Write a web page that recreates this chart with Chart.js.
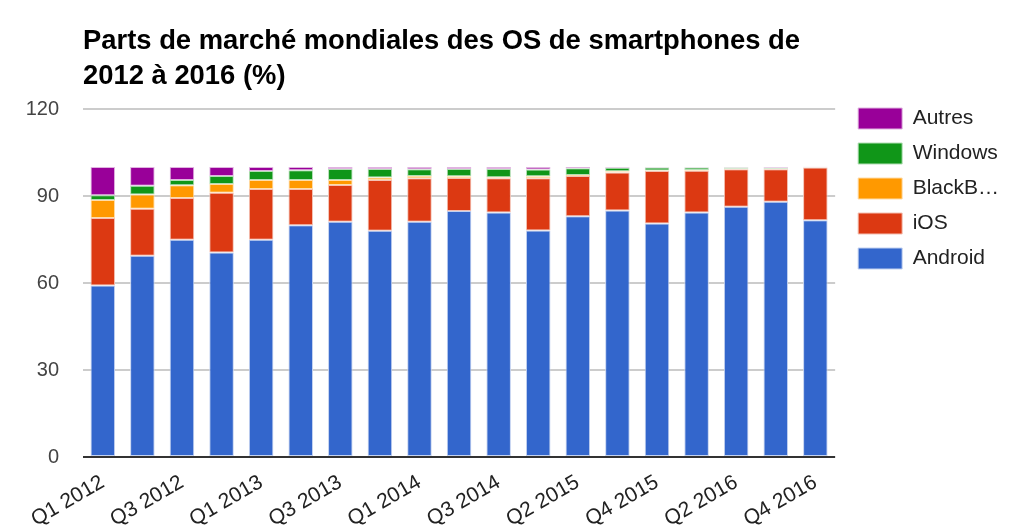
<!DOCTYPE html>
<html lang="fr">
<head>
<meta charset="utf-8">
<title>Parts de marché mondiales des OS de smartphones</title>
<script src="https://cdn.jsdelivr.net/npm/chart.js@4"></script>
<style>
  html, body { margin: 0; padding: 0; background: #fff; }
  #wrap { position: relative; width: 1024px; height: 531px; }
</style>
</head>
<body>
<div id="wrap"><canvas id="os-chart"></canvas></div>
<script>
// quarters (one quarter, Q4 2014, is missing from the source)
const quarters = [
  "Q1 2012", "Q2 2012", "Q3 2012", "Q4 2012",
  "Q1 2013", "Q2 2013", "Q3 2013", "Q4 2013",
  "Q1 2014", "Q2 2014", "Q3 2014", "Q1 2015",
  "Q2 2015", "Q3 2015", "Q4 2015",
  "Q1 2016", "Q2 2016", "Q3 2016", "Q4 2016"
];

// market share in %
const android = [59.1, 69.4, 74.9, 70.5, 74.9, 79.9, 81.1, 78.0, 81.1, 84.8, 84.3, 78.1, 83.0, 85.0, 80.5, 84.3, 86.3, 88.0, 81.6];
const ios = [23.3, 16.2, 14.4, 20.6, 17.5, 12.5, 12.7, 17.5, 15.0, 11.4, 11.8, 18.0, 13.9, 13.1, 18.1, 14.4, 12.9, 11.2, 18.2];
const blackberry = [6.2, 4.9, 4.4, 3.0, 3.1, 3.1, 1.7, 0.9, 0.8, 0.6, 0.4, 0.7, 0.3, 0.4, 0.2, 0.3, 0.2, 0.2, 0.1];
const windows = [1.7, 3.0, 1.8, 2.8, 3.1, 3.4, 3.8, 2.9, 2.3, 2.5, 2.8, 2.3, 2.4, 1.2, 1.0, 0.8, 0.4, 0.3, 0.1];
const autres = [9.7, 6.5, 4.5, 3.1, 1.4, 1.1, 0.7, 0.7, 0.8, 0.7, 0.7, 0.9, 0.4, 0.3, 0.2, 0.2, 0.2, 0.3, 0.1];

const yTicks = [0, 30, 60, 90, 120];

const titleLines = [
  "Parts de marché mondiales des OS de smartphones de",
  "2012 à 2016 (%)"
];

Chart.defaults.font.family = 'Arial, "Liberation Sans", sans-serif';

// fill colour + a pale tint for the thin outline google-style bars have
const makeSet = (label, data, color, edge) => ({
  label: label,
  data: data,
  backgroundColor: color,
  borderColor: edge,
  borderWidth: 1,
  borderSkipped: false,
  barPercentage: 0.62,
  categoryPercentage: 1,
});

const chartData = {
  labels: quarters,
  datasets: [
    makeSet("Android", android, "#3366cc", "#c2d1f0"),
    makeSet("iOS", ios, "#dc3912", "#f4c0b2"),
    makeSet("BlackBerry", blackberry, "#ff9900", "#ffdca8"),
    makeSet("Windows", windows, "#109618", "#b3deb5"),
    makeSet("Autres", autres, "#990099", "#e0b3e0"),
  ],
};

const osChart = new Chart(document.querySelector("#os-chart"), {
  type: "bar",
  data: chartData,
  options: {
    responsive: true,
    maintainAspectRatio: false,
    animation: false,
    layout: { padding: { top: 10, right: 15, bottom: 0, left: 0 } },
    plugins: {
      tooltip: { enabled: false },
      title: {
        display: true,
        text: titleLines,
        align: "start",
        fullSize: false,
        color: "#000",
        font: { size: 27.4, weight: "bold", lineHeight: 35 / 27.4 },
        padding: { top: 14, bottom: 15 },
      },
      legend: {
        position: "right",
        align: "start",
        reverse: true,
        // empty title only pushes the items down to the plot top
        title: { display: true, text: "", font: { size: 10, lineHeight: 1 }, padding: { top: 74, bottom: 0 } },
        labels: {
          boxWidth: 44,
          boxHeight: 21,
          padding: 14,
          color: "#222",
          font: { size: 21 },
          generateLabels: (chart) => {
            const items = Chart.defaults.plugins.legend.labels.generateLabels(chart);
            items.forEach((it) => {
              if (it.text.length > 7) it.text = it.text.slice(0, 6) + "…";
              it.lineWidth = 1;
            });
            return items;
          },
        },
      },
    },
    scales: {
      x: {
        stacked: true,
        grid: { display: false },
        border: { display: false },
        ticks: {
          autoSkip: false,
          maxRotation: 30,
          minRotation: 30,
          padding: 5,
          color: "#222",
          font: { size: 21 },
          callback: (val, i) => (i % 2 === 0 ? quarters[i] : ""),
        },
        afterFit: (s) => { s.height = 74; },
      },
      y: {
        stacked: true,
        min: 0,
        max: 120,
        afterBuildTicks: (s) => { s.ticks = yTicks.map((v) => ({ value: v })); },
        grid: {
          drawTicks: false,
          color: (ctx) => (ctx.tick && ctx.tick.value === 0 ? "#333" : "#cccccc"),
          lineWidth: 2,
        },
        border: { display: false },
        ticks: { padding: 24, color: "#444", font: { size: 20 } },
        afterFit: (s) => { s.width = 83; },
      },
      // spacer between plot and legend
      gap: {
        position: "right",
        display: true,
        grid: { display: false },
        border: { display: false },
        ticks: { display: false },
        afterFit: (s) => { s.width = 9; },
      },
    },
  },
});
</script>
</body>
</html>
